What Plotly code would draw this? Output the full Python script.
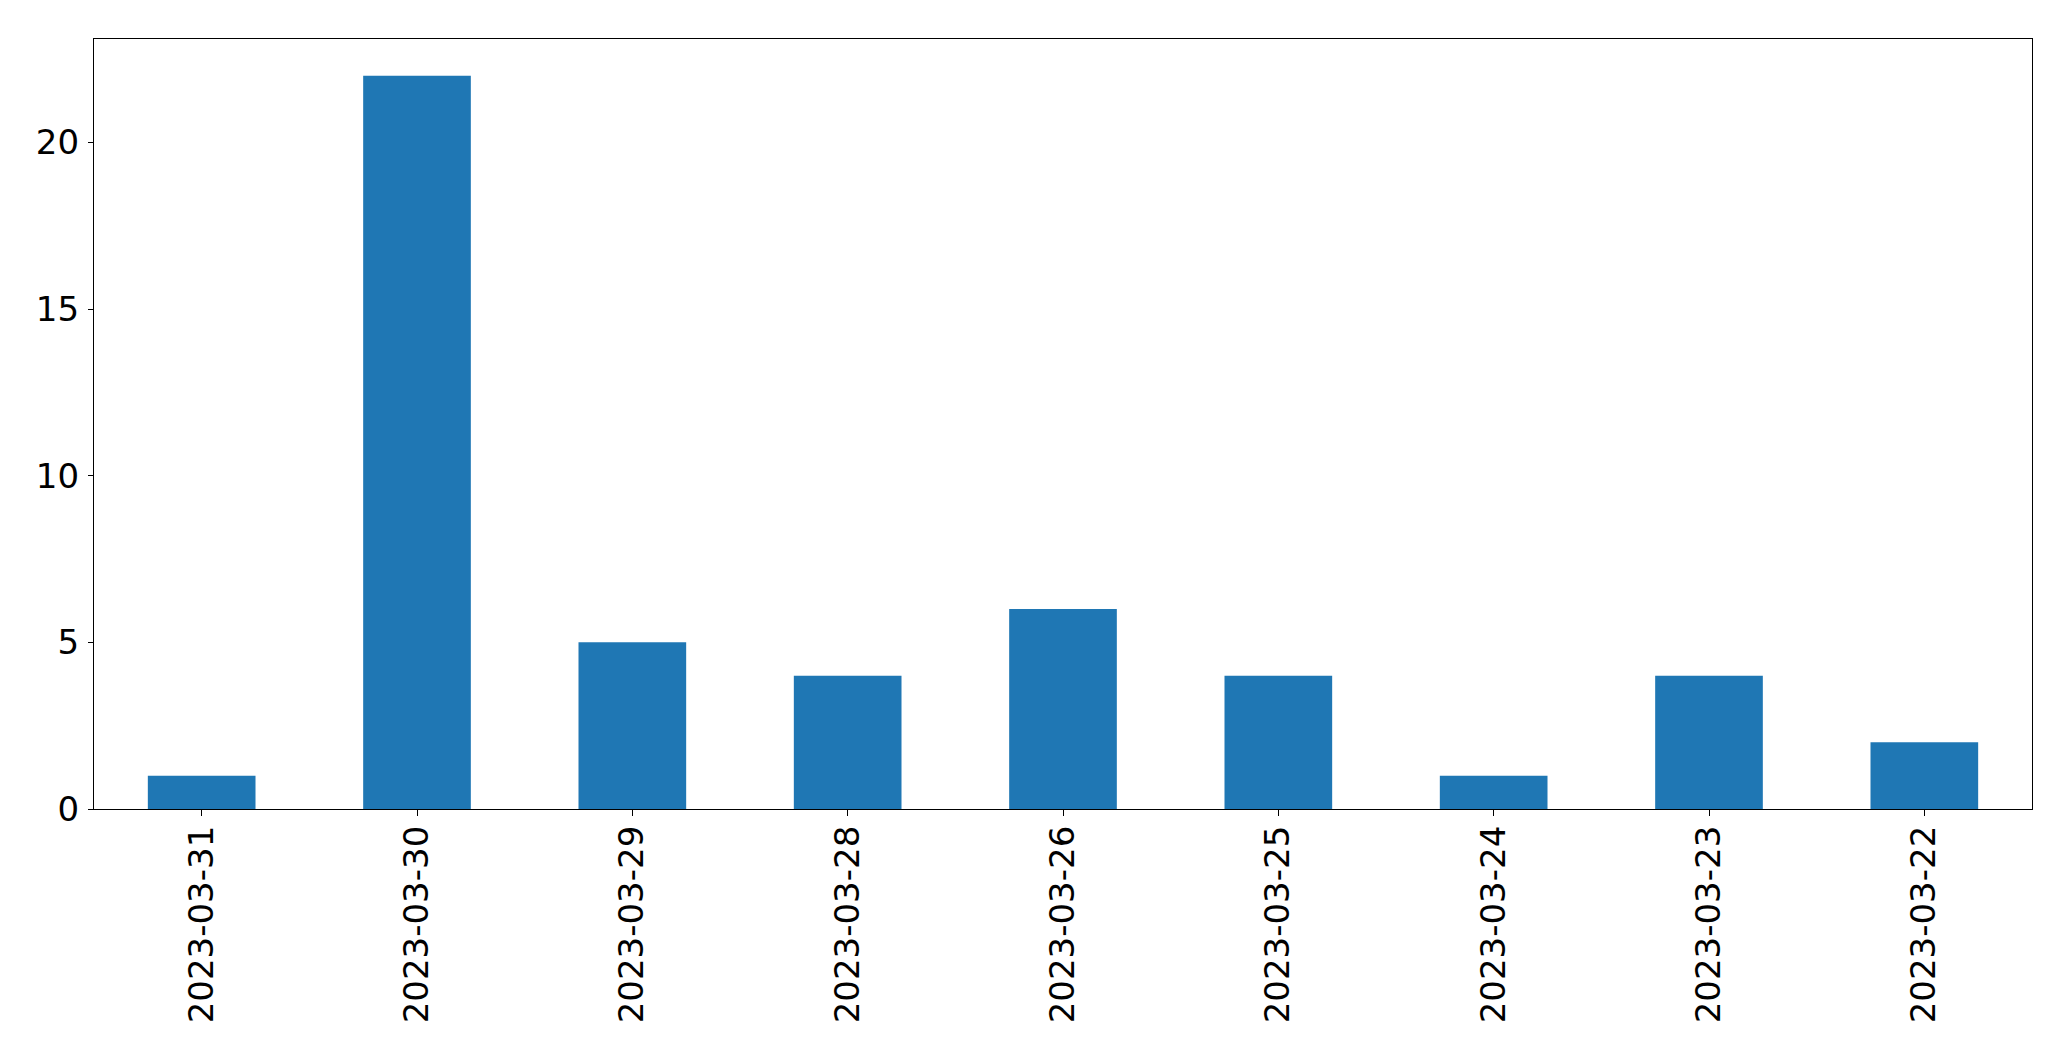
import plotly.graph_objects as go

dates = ["2023-03-31", "2023-03-30", "2023-03-29", "2023-03-28", "2023-03-26",
         "2023-03-25", "2023-03-24", "2023-03-23", "2023-03-22"]
counts = [1, 22, 5, 4, 6, 4, 1, 4, 2]
y_ticks = [0, 5, 10, 15, 20]

fig = go.Figure(go.Bar(x=dates, y=counts, marker=dict(color="#1f77b4", line=dict(width=0))))

font = dict(family="DejaVu Sans", size=34, color="black")
fig.update_layout(
    width=2071, height=1061,
    margin=dict(l=94, r=39, t=39, b=252, autoexpand=False),
    plot_bgcolor="white", paper_bgcolor="white",
    bargap=0.5, showlegend=False, font=font,
)
fig.update_xaxes(
    type="category", range=[-0.5, len(dates) - 0.5],
    showline=True, linecolor="black", linewidth=1.3, mirror=True,
    ticks="outside", ticklen=6, tickwidth=1.3, tickcolor="black",
    tickangle=-90, showgrid=False, zeroline=False, tickfont=font,
    ticklabelstandoff=-4,
)
fig.update_yaxes(
    range=[0, 23.1], tickvals=y_ticks,
    showline=True, linecolor="black", linewidth=1.3, mirror=True,
    ticks="outside", ticklen=5, tickwidth=1.3, tickcolor="black",
    showgrid=False, zeroline=False, tickfont=font,
    ticklabelstandoff=2,
)
fig.write_html(
    "out.html",
    config={"displayModeBar": False},
    post_script="document.body.style.margin='0';document.body.style.overflow='hidden';",
)
